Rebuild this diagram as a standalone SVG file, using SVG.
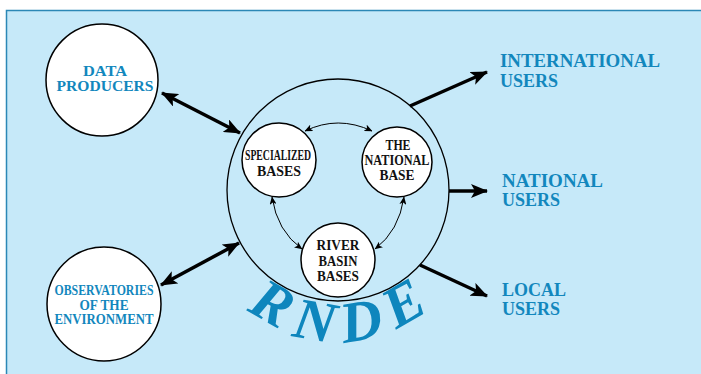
<svg xmlns="http://www.w3.org/2000/svg" width="701" height="374" viewBox="0 0 701 374">
<defs>
<marker id="big" markerUnits="userSpaceOnUse" markerWidth="18" markerHeight="14" refX="16" refY="7" orient="auto-start-reverse" viewBox="0 0 18 14">
<path d="M0,0 L17,7 L0,14 L4,7 z" fill="#000"/>
</marker>
<marker id="small" markerUnits="userSpaceOnUse" markerWidth="8" markerHeight="7" refX="7.5" refY="3.5" orient="auto-start-reverse" viewBox="0 0 8 7">
<path d="M0,0 L8,3.5 L0,7 L2,3.5 z" fill="#000"/>
</marker>
<style>
.bg{fill:#c6e9f9;stroke:#2b88b6;stroke-width:1.5}
.node{fill:#fff;stroke:#000;stroke-width:1.5}
.hub{fill:none;stroke:#000;stroke-width:1.3}
.blue{font-family:"Liberation Serif","Times New Roman",serif;font-weight:bold;fill:#1287bd;text-anchor:middle;font-size:14px}
.rlab{font-family:"Liberation Serif","Times New Roman",serif;font-weight:bold;fill:#1287bd;font-size:18px}
.blk{font-family:"Liberation Serif","Times New Roman",serif;font-weight:bold;fill:#111;font-size:15px;text-anchor:middle}
.thick{fill:none;stroke:#000;stroke-width:3.5}
.thin{fill:none;stroke:#000;stroke-width:1}
.rnde{font-family:"Liberation Serif","Times New Roman",serif;font-weight:bold;font-style:italic;fill:#0e86bd;font-size:58px;text-anchor:middle}
</style>
</defs>
<rect class="bg" x="6.5" y="10.5" width="720" height="400"/>

<g id="data-producers">
<circle class="node" cx="102" cy="80" r="56"/>
<text class="blue" x="105" y="76" textLength="44" lengthAdjust="spacingAndGlyphs">DATA</text>
<text class="blue" x="105" y="91" textLength="97" lengthAdjust="spacingAndGlyphs">PRODUCERS</text>
</g>

<g id="observatories">
<circle class="node" cx="104" cy="304" r="57"/>
<text class="blue" x="104" y="295" textLength="99" lengthAdjust="spacingAndGlyphs">OBSERVATORIES</text>
<text class="blue" x="104" y="309.5" textLength="49" lengthAdjust="spacingAndGlyphs">OF THE</text>
<text class="blue" x="104" y="324" textLength="99" lengthAdjust="spacingAndGlyphs">ENVIRONMENT</text>
</g>

<g id="rnde">
<circle class="hub" cx="338" cy="190" r="111"/>
<text class="rnde" x="338" y="340" transform="rotate(30 338 190)">R</text>
<text class="rnde" x="338" y="342" transform="rotate(10 338 190)">N</text>
<text class="rnde" x="338" y="342" transform="rotate(-10 338 190)">D</text>
<text class="rnde" x="338" y="340" transform="rotate(-30 338 190)">E</text>
</g>

<g id="specialized-bases">
<circle class="node" cx="279" cy="160" r="37"/>
<text class="blk" x="278" y="160" textLength="66" lengthAdjust="spacingAndGlyphs">SPECIALIZED</text>
<text class="blk" x="279" y="176" textLength="44" lengthAdjust="spacingAndGlyphs">BASES</text>
</g>

<g id="national-base">
<circle class="node" cx="397" cy="162" r="35"/>
<text class="blk" x="398" y="150" textLength="25" lengthAdjust="spacingAndGlyphs">THE</text>
<text class="blk" x="397" y="165" textLength="65" lengthAdjust="spacingAndGlyphs">NATIONAL</text>
<text class="blk" x="397" y="180" textLength="35" lengthAdjust="spacingAndGlyphs">BASE</text>
</g>

<g id="river-basin-bases">
<circle class="node" cx="338" cy="260" r="37"/>
<text class="blk" x="338" y="250" textLength="43" lengthAdjust="spacingAndGlyphs">RIVER</text>
<text class="blk" x="338" y="266" textLength="39" lengthAdjust="spacingAndGlyphs">BASIN</text>
<text class="blk" x="338" y="281" textLength="42" lengthAdjust="spacingAndGlyphs">BASES</text>
</g>

<g id="international-users">
<text class="rlab" x="500" y="67" textLength="160" lengthAdjust="spacingAndGlyphs">INTERNATIONAL</text>
<text class="rlab" x="500" y="87">USERS</text>
</g>
<g id="national-users">
<text class="rlab" x="502" y="187" textLength="101" lengthAdjust="spacingAndGlyphs">NATIONAL</text>
<text class="rlab" x="502" y="206">USERS</text>
</g>
<g id="local-users">
<text class="rlab" x="502" y="296">LOCAL</text>
<text class="rlab" x="502" y="315">USERS</text>
</g>

<g id="connectors">
<line class="thick" x1="162" y1="93" x2="240" y2="133" marker-start="url(#big)" marker-end="url(#big)"/>
<line class="thick" x1="161" y1="285" x2="239" y2="243" marker-start="url(#big)" marker-end="url(#big)"/>
<line class="thick" x1="410" y1="106" x2="487" y2="72" marker-end="url(#big)"/>
<line class="thick" x1="449" y1="191" x2="487" y2="191" marker-end="url(#big)"/>
<line class="thick" x1="420" y1="265" x2="487" y2="296" marker-end="url(#big)"/>
<path class="thin" d="M305,131 Q338,115 372,131" marker-start="url(#small)" marker-end="url(#small)"/>
<path class="thin" d="M272,197 Q277,231 302,249" marker-start="url(#small)" marker-end="url(#small)"/>
<path class="thin" d="M404,197 Q399,231 375,249" marker-start="url(#small)" marker-end="url(#small)"/>
</g>
</svg>
